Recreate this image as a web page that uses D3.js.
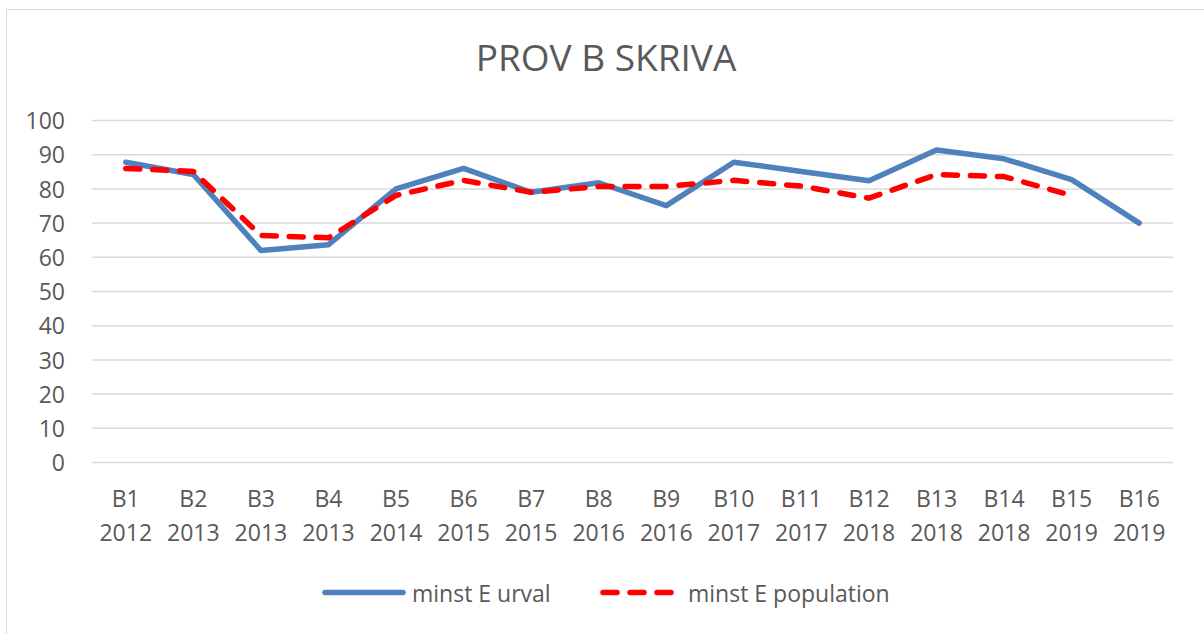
<!DOCTYPE html>
<html>
<head>
<meta charset="utf-8">
<script src="https://cdn.jsdelivr.net/npm/d3@7/dist/d3.min.js"></script>
<style>
  body { margin: 0; background: #fff; }
  svg text { font-family: "Open Sans", sans-serif; fill: #595959; }
</style>
</head>
<body>
<div id="chart"></div>
<script>
var categories = ["B1","B2","B3","B4","B5","B6","B7","B8","B9","B10","B11","B12","B13","B14","B15","B16"];
var years = ["2012","2013","2013","2013","2014","2015","2015","2016","2016","2017","2017","2018","2018","2018","2019","2019"];
var urval = [87.8, 84.2, 62, 63.7, 80, 86, 79, 81.8, 75.1, 87.8, 85.1, 82.4, 91.4, 88.8, 82.7, 70];
var population = [86, 85.1, 66.4, 65.7, 78.1, 82.5, 79, 80.7, 80.7, 82.5, 80.8, 77.3, 84.2, 83.6, 78.1, null];
var yTicks = [0,10,20,30,40,50,60,70,80,90,100];

var width = 1204, height = 634;
var svg = d3.select("#chart").append("svg").attr("width", width).attr("height", height);

// outer frame (only left/top visible in the crop)
svg.append("rect")
  .attr("x", 6.5).attr("y", 9.5).attr("width", 1210).attr("height", 640)
  .style("fill", "#fff").style("stroke", "#d9d9d9").style("stroke-width", "1px");

var x = d3.scalePoint().domain(categories).range([92, 1173]).padding(0.5);
var y = d3.scaleLinear().domain([0, 100]).range([462.5, 120.5]);

// gridlines
svg.append("g").selectAll("line").data(yTicks).enter().append("line")
  .attr("x1", 92).attr("x2", 1173)
  .attr("y1", function(d){ return y(d); })
  .attr("y2", function(d){ return y(d); })
  .style("stroke", "#d9d9d9").style("stroke-width", "1.5px");

// y labels
var yAxis = d3.axisLeft(y).tickValues(yTicks).tickSize(0).tickPadding(0);
var gy = svg.append("g").attr("transform", "translate(65,0)").call(yAxis);
gy.select(".domain").remove();
gy.selectAll("text")
  .style("font-size", "23px")
  .style("font-family", "'Open Sans', sans-serif")
  .attr("fill", "#595959")
  .attr("dy", "0.36em");

// x labels (two lines)
var xl = svg.append("g").selectAll("text").data(categories).enter().append("text")
  .attr("x", function(d){ return x(d); })
  .attr("text-anchor", "middle")
  .style("font-size", "23px");
xl.append("tspan").attr("x", function(d){ return x(d); }).attr("y", 507).text(function(d){ return d; });
xl.append("tspan").attr("x", function(d){ return x(d); }).attr("y", 541).text(function(d,i){ return years[i]; });

// lines
var line = d3.line()
  .defined(function(d){ return d != null; })
  .x(function(d,i){ return x(categories[i]); })
  .y(function(d){ return y(d); });

svg.append("path")
  .attr("d", line(urval))
  .style("fill", "none")
  .style("stroke", "#4f81bd")
  .style("stroke-width", "5.5px")
  .style("stroke-linejoin", "round")
  .style("stroke-linecap", "round");

svg.append("path")
  .attr("d", line(population))
  .style("fill", "none")
  .style("stroke", "#ff0000")
  .style("stroke-width", "5.5px")
  .style("stroke-dasharray", "14 13")
  .style("stroke-linejoin", "round")
  .style("stroke-linecap", "round");

// title
svg.append("text")
  .attr("x", 606).attr("y", 71)
  .attr("text-anchor", "middle")
  .style("font-size", "37px")
  .text("PROV B SKRIVA");

// legend
var legend = [
  {name: "minst E urval", color: "#4f81bd", dash: null, x1: 325, x2: 403, tx: 412},
  {name: "minst E population", color: "#ff0000", dash: "14 13", x1: 603, x2: 675, tx: 688}
];
var lg = svg.append("g").selectAll("g").data(legend).enter().append("g");
lg.append("line")
  .attr("x1", function(d){ return d.x1; }).attr("x2", function(d){ return d.x2; })
  .attr("y1", 592.5).attr("y2", 592.5)
  .style("stroke", function(d){ return d.color; })
  .style("stroke-width", "5.5px")
  .style("stroke-linecap", "round")
  .style("stroke-dasharray", function(d){ return d.dash; });
lg.append("text")
  .attr("x", function(d){ return d.tx; }).attr("y", 602)
  .style("font-size", "23px")
  .text(function(d){ return d.name; });
</script>
</body>
</html>
